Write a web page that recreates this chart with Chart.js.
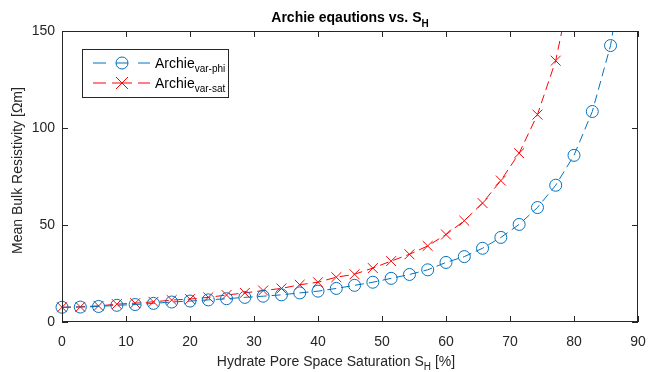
<!DOCTYPE html>
<html>
<head>
<meta charset="utf-8">
<script src="https://cdn.jsdelivr.net/npm/chart.js@4.4.1/dist/chart.umd.min.js"></script>
<style>
  html, body { margin: 0; padding: 0; background: #fff; }
  #wrap { width: 648px; height: 372px; position: relative; }
</style>
</head>
<body>
<div id="wrap"><canvas id="ctx-archie"></canvas></div>
<script>
// hydrate pore space saturation S_H [%]
const saturation = [0, 2.86, 5.71, 8.57, 11.43, 14.29, 17.14, 20, 22.86, 25.71,
  28.57, 31.43, 34.29, 37.14, 40, 42.86, 45.71, 48.57, 51.43, 54.29,
  57.14, 60, 62.86, 65.71, 68.57, 71.43, 74.29, 77.14, 80, 82.86, 85.71, 88.57];
// mean bulk resistivity [Ohm m]
const archieVarPhi = [7.6, 7.7, 8.0, 8.6, 9.0, 9.6, 10.3, 10.8, 11.4, 12.0,
  12.7, 13.3, 14.0, 15.0, 15.9, 17.3, 18.9, 20.5, 22.5, 24.5,
  26.9, 30.7, 33.7, 38.0, 43.6, 50.3, 59.0, 70.5, 85.9, 108.5, 142.5, 200];
const archieVarSat = [7.6, 7.8, 8.3, 9.2, 9.7, 10.4, 11.3, 11.8, 12.7, 13.9,
  15.0, 16.2, 17.3, 19.2, 20.5, 23.1, 24.6, 27.8, 31.4, 34.9,
  39.2, 45.1, 52.2, 61.3, 72.9, 87.0, 106.9, 134.7, 180];
const xTickValues = [0, 10, 20, 30, 40, 50, 60, 70, 80, 90];
const yTickValues = [0, 50, 100, 150];

const FONT = '"Liberation Sans", Arial, Helvetica, sans-serif';
const INK = '#262626';
const BLUE = '#0072BD';
const RED = '#FF0000';

const toPoints = (xs, ys) => ys.map((y, i) => ({ x: xs[i], y }));

// draw text runs, some of them subscripts
function drawRuns(ctx, runs, x, y, align) {
  const widths = runs.map((r) => {
    ctx.font = `${r.bold ? 'bold ' : ''}${r.size}px ${FONT}`;
    return ctx.measureText(r.text).width;
  });
  const total = widths.reduce((a, b) => a + b, 0);
  let cx = align === 'center' ? x - total / 2 : x;
  ctx.textAlign = 'left';
  ctx.textBaseline = 'alphabetic';
  runs.forEach((r, i) => {
    ctx.font = `${r.bold ? 'bold ' : ''}${r.size}px ${FONT}`;
    ctx.fillText(r.text, cx, y + (r.dy || 0));
    cx += widths[i];
  });
}

const matlabAxes = {
  id: 'matlabAxes',
  afterDatasetsDraw(chart) {
    const { ctx, chartArea: a, scales } = chart;
    ctx.save();
    ctx.strokeStyle = INK;
    ctx.lineWidth = 1;
    ctx.strokeRect(a.left + 0.5, a.top + 0.5, a.right - a.left - 1, a.bottom - a.top - 1);
    const len = 6;
    ctx.beginPath();
    xTickValues.forEach((v) => {
      const px = Math.round(scales.x.getPixelForValue(v)) + 0.5;
      ctx.moveTo(px, a.bottom); ctx.lineTo(px, a.bottom - len);
      ctx.moveTo(px, a.top); ctx.lineTo(px, a.top + len);
    });
    yTickValues.forEach((v) => {
      const py = Math.round(scales.y.getPixelForValue(v)) + 0.5;
      ctx.moveTo(a.left, py); ctx.lineTo(a.left + len, py);
      ctx.moveTo(a.right, py); ctx.lineTo(a.right - len, py);
    });
    ctx.stroke();

    // title
    ctx.fillStyle = '#000';
    drawRuns(ctx, [
      { text: 'Archie eqautions vs. S', size: 14, bold: true },
      { text: 'H', size: 10, bold: true, dy: 5 },
    ], (a.left + a.right) / 2, 22, 'center');

    // x axis title
    ctx.fillStyle = INK;
    drawRuns(ctx, [
      { text: 'Hydrate Pore Space Saturation S', size: 14 },
      { text: 'H', size: 10, dy: 4 },
      { text: ' [%]', size: 14 },
    ], (a.left + a.right) / 2 - 14, 366, 'center');

    // y axis title
    ctx.save();
    ctx.translate(22, (a.top + a.bottom) / 2 - 6);
    ctx.rotate(-Math.PI / 2);
    drawRuns(ctx, [{ text: 'Mean Bulk Resistivity [Ωm]', size: 14 }], 0, 0, 'center');
    ctx.restore();

    // legend
    const lx = 82;
    const ly = 49;
    ctx.fillStyle = '#fff';
    ctx.fillRect(lx, ly, 146, 48);
    ctx.strokeStyle = INK;
    ctx.strokeRect(lx + 0.5, ly + 0.5, 146, 48);
    const entries = [
      { color: BLUE, marker: 'circle', sub: 'var-phi', y: ly + 14 },
      { color: RED, marker: 'cross', sub: 'var-sat', y: ly + 34 },
    ];
    entries.forEach((e) => {
      ctx.strokeStyle = e.color;
      ctx.lineWidth = 1;
      ctx.beginPath();
      ctx.moveTo(lx + 11, e.y); ctx.lineTo(lx + 24, e.y);
      ctx.moveTo(lx + 56, e.y); ctx.lineTo(lx + 68, e.y);
      ctx.stroke();
      const mx = lx + 40;
      ctx.beginPath();
      if (e.marker === 'circle') {
        ctx.arc(mx, e.y, 6, 0, Math.PI * 2);
        ctx.moveTo(mx - 6, e.y); ctx.lineTo(mx + 6, e.y);
      } else {
        ctx.moveTo(mx - 6, e.y - 6); ctx.lineTo(mx + 6, e.y + 6);
        ctx.moveTo(mx - 6, e.y + 6); ctx.lineTo(mx + 6, e.y - 6);
        ctx.moveTo(mx - 10, e.y); ctx.lineTo(mx + 10, e.y);
      }
      ctx.stroke();
      ctx.fillStyle = '#000';
      drawRuns(ctx, [
        { text: 'Archie', size: 14 },
        { text: e.sub, size: 10, dy: 4 },
      ], lx + 73, e.y + 5, 'left');
    });
    ctx.restore();
  },
};

new Chart(document.getElementById('ctx-archie').getContext('2d'), {
  type: 'line',
  data: {
    datasets: [
      {
        label: 'Archie var-phi',
        data: toPoints(saturation, archieVarPhi),
        borderColor: BLUE,
        backgroundColor: 'rgba(0,0,0,0)',
        borderWidth: 1,
        borderDash: [9, 5],
        pointStyle: 'circle',
        pointRadius: 6,
        pointBorderWidth: 1,
        pointBorderColor: BLUE,
        pointBackgroundColor: 'rgba(0,0,0,0)',
        tension: 0,
        clip: { left: 10, bottom: 10, top: 0, right: 0 },
      },
      {
        label: 'Archie var-sat',
        data: toPoints(saturation, archieVarSat),
        borderColor: RED,
        backgroundColor: 'rgba(0,0,0,0)',
        borderWidth: 1,
        borderDash: [9, 5],
        pointStyle: 'crossRot',
        pointRadius: 7,
        pointBorderWidth: 1,
        pointBorderColor: RED,
        tension: 0,
        clip: { left: 10, bottom: 10, top: 0, right: 0 },
      },
    ],
  },
  options: {
    responsive: true,
    maintainAspectRatio: false,
    animation: false,
    events: [],
    layout: { autoPadding: false, padding: { top: 31, right: 10, left: 0, bottom: 0 } },
    plugins: {
      legend: { display: false },
      title: { display: false },
      tooltip: { enabled: false },
    },
    scales: {
      x: {
        type: 'linear',
        min: 0,
        max: 90,
        afterFit: (scale) => {
          scale.height = 50;
          scale.paddingLeft = 0;
          scale.paddingRight = 0;
        },
        grid: { display: false, drawTicks: false },
        border: { display: false },
        ticks: {
          stepSize: 10,
          padding: 12,
          color: INK,
          font: { family: FONT, size: 14 },
        },
      },
      y: {
        min: 0,
        max: 150,
        afterFit: (scale) => {
          scale.width = 62;
          scale.paddingTop = 0;
          scale.paddingBottom = 0;
        },
        grid: { display: false, drawTicks: false },
        border: { display: false },
        ticks: {
          stepSize: 50,
          padding: 7,
          color: INK,
          font: { family: FONT, size: 14 },
        },
      },
    },
  },
  plugins: [matlabAxes],
});
</script>
</body>
</html>
